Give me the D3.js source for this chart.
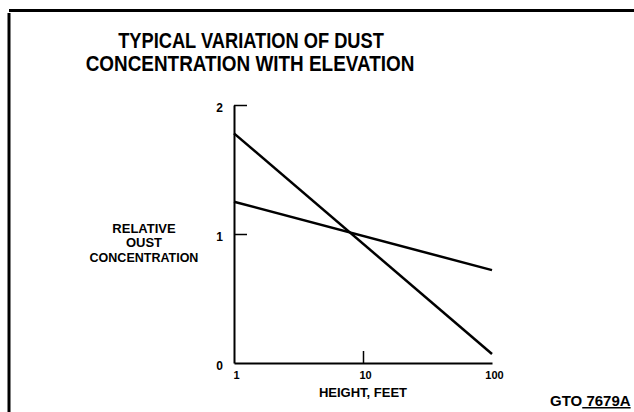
<!DOCTYPE html>
<html>
<head>
<meta charset="utf-8">
<script src="https://cdn.jsdelivr.net/npm/d3@7"></script>
<style>
  body { margin: 0; background: #fff; }
  svg text { font-family: "Liberation Sans", Arial, sans-serif; font-weight: bold; fill: #000; }
</style>
</head>
<body>
<div id="chart-area"></div>
<script>
// Datos
const heightsFeet = [1, 100];
const steepSeries = [1.78, 0.07];
const flatSeries = [1.25, 0.72];
const xTickValues = [1, 10, 100];
const yTickValues = [0, 1, 2];
const titleLines = ["TYPICAL VARIATION OF DUST", "CONCENTRATION WITH ELEVATION"];
const yLabelLines = ["RELATIVE", "OUST", "CONCENTRATION"];

const W = 634, H = 412;
const plot = { left: 234, right: 492, top: 105, bottom: 363 };

const svg = d3.select("#chart-area")
    .append("svg")
    .attr("width", W)
    .attr("height", H);

// Marco
svg.append("line")
    .attr("x1", 9).attr("x2", W).attr("y1", 10.5).attr("y2", 10.5)
    .attr("stroke", "#000").attr("stroke-width", 3);
svg.append("line")
    .attr("x1", 9).attr("x2", 9).attr("y1", 13).attr("y2", H)
    .attr("stroke", "#000").attr("stroke-width", 3);

// Título (fuente estrecha)
svg.append("g").selectAll("text")
    .data(titleLines)
    .enter().append("text")
    .attr("transform", (d, i) => `translate(${251 - i}, ${48 + i * 23}) scale(${i ? 0.86 : 0.83}, 1)`)
    .attr("text-anchor", "middle")
    .style("font-size", "22px")
    .text(d => d);

// Escalas
const x = d3.scaleLog().domain([1, 100]).range([plot.left, plot.right]);
const y = d3.scaleLinear().domain([0, 2]).range([plot.bottom, plot.top]);

// Ejes
const xAxis = svg.append("g")
    .attr("transform", `translate(0, ${plot.bottom})`)
    .call(d3.axisBottom(x).tickValues(xTickValues).tickFormat(d3.format("d"))
        .tickSizeInner(-12).tickSizeOuter(0).tickPadding(8));
xAxis.select(".domain").attr("stroke-width", 2);
xAxis.selectAll(".tick line").attr("stroke-width", 1.5)
    .filter(d => d !== 10).remove();
xAxis.selectAll(".tick text")
    .attr("dx", 2)
    .style("font-size", "11px");

const yAxis = svg.append("g")
    .attr("transform", `translate(${plot.left}, 0)`)
    .call(d3.axisLeft(y).tickValues(yTickValues).tickFormat(d3.format("d"))
        .tickSizeInner(-13).tickSizeOuter(0).tickPadding(11));
yAxis.select(".domain").attr("stroke-width", 2);
yAxis.selectAll(".tick line").attr("stroke-width", 1.5)
    .filter(d => d === 0).remove();
yAxis.selectAll(".tick text")
    .attr("dy", "0.58em")
    .style("font-size", "12px");

// Etiqueta eje Y
svg.append("g").selectAll("text")
    .data(yLabelLines)
    .enter().append("text")
    .attr("x", 144)
    .attr("y", (d, i) => [233, 247, 262][i])
    .attr("text-anchor", "middle")
    .style("font-size", (d, i) => i === 2 ? "12.5px" : "13px")
    .text(d => d);

// Etiqueta eje X
svg.append("text")
    .attr("x", 363)
    .attr("y", 397)
    .attr("text-anchor", "middle")
    .style("font-size", "13px")
    .text("HEIGHT, FEET");

// Líneas
const line = d3.line()
    .x(d => x(d[0]))
    .y(d => y(d[1]));

[steepSeries, flatSeries].forEach(series => {
    svg.append("path")
        .datum(heightsFeet.map((h, i) => [h, series[i]]))
        .attr("fill", "none")
        .attr("stroke", "#000")
        .attr("stroke-width", 2.5)
        .attr("d", line);
});

// Código de figura
const code = svg.append("text")
    .attr("x", 550)
    .attr("y", 406)
    .style("font-size", "15px");
code.append("tspan").text("GTO");
code.append("tspan").style("text-decoration", "underline").text(" 7679A");
</script>
</body>
</html>
